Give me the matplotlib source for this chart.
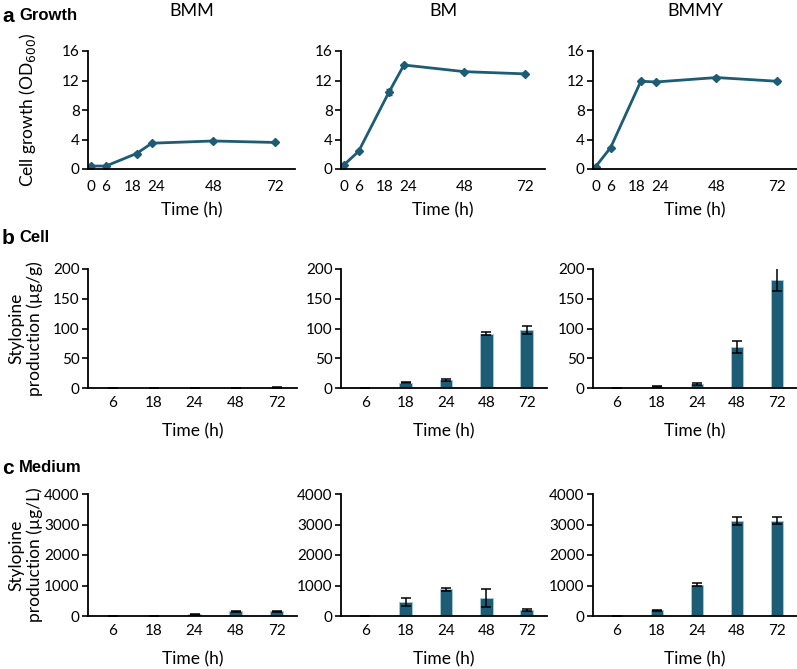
import numpy as np
import matplotlib
matplotlib.use('Agg')
import matplotlib.pyplot as plt
import matplotlib.transforms as mtransforms

plt.rcParams['font.family'] = ['Lato', 'DejaVu Sans']

# growth (OD600) over time
t_growth = [0, 6, 18, 24, 48, 72]
growth_bmm = [0.4, 0.4, 2.1, 3.5, 3.8, 3.6]
growth_bm = [0.5, 2.4, 10.4, 14.1, 13.2, 12.9]
growth_bmmy = [0.3, 2.9, 11.9, 11.8, 12.4, 11.9]
growth_bmm_err = [0.05, 0.05, 0.15, 0.1, 0.1, 0.1]
growth_bm_err = [0.05, 0.15, 0.4, 0.1, 0.15, 0.1]
growth_bmmy_err = [0.05, 0.15, 0.15, 0.1, 0.15, 0.2]

# stylopine production
t_prod = ['6', '18', '24', '48', '72']
cell_bmm = [0.0, 0.3, 0.0, 0.5, 1.5]
cell_bm = [0.5, 9, 13, 91, 98]
cell_bmmy = [0.0, 2, 7, 69, 182]
cell_bmm_err = [0, 0.2, 0, 0.3, 0.8]
cell_bm_err = [0.2, 1.0, 1.5, 2.5, 7]
cell_bmmy_err = [0, 1.0, 2, 10, 19]

med_bmm = [0, 5, 60, 150, 160]
med_bm = [0, 450, 870, 580, 195]
med_bmmy = [0, 195, 1020, 3110, 3120]
med_bmm_err = [0, 3, 15, 20, 15]
med_bm_err = [0, 130, 40, 300, 25]
med_bmmy_err = [0, 15, 50, 120, 110]

media = ['BMM', 'BM', 'BMMY']
col = '#1c5c74'

W, H = 797, 669
fig = plt.figure(figsize=(W / 100, H / 100), dpi=100)

def ax_px(left, top, right, bottom):
    return fig.add_axes([left / W, 1 - bottom / H, (right - left) / W, (bottom - top) / H])

def style(ax, xpad=6):
    for s in ['top', 'right']:
        ax.spines[s].set_visible(False)
    for s in ['left', 'bottom']:
        ax.spines[s].set_linewidth(1.3)
    ax.tick_params(axis='y', direction='out', length=4, width=1.2, labelsize=11, pad=2)
    ax.tick_params(axis='x', length=0, labelsize=11, pad=xpad)

lefts = [88, 341, 593]
rights = [295, 545, 797]

# row a: growth
gdata = [(growth_bmm, growth_bmm_err), (growth_bm, growth_bm_err), (growth_bmmy, growth_bmmy_err)]
for i, (y, e) in enumerate(gdata):
    ax = ax_px(lefts[i], 51, rights[i], 169)
    ax.errorbar(t_growth, y, yerr=e, color=col, lw=2, marker='D', ms=4.5,
                ecolor='#1a3f50', elinewidth=1, capsize=2.5)
    ax.set_ylim(0, 16)
    ax.set_yticks([0, 4, 8, 12, 16])
    ax.set_xlim(-1, 80)
    ax.set_xticks(t_growth)
    ax.set_xlabel('Time (h)', fontsize=12.5, labelpad=6)
    style(ax, xpad=8)
    # push the crowded 18 / 24 labels apart a little
    tl = ax.get_xticklabels()
    tl[2].set_transform(tl[2].get_transform() + mtransforms.ScaledTranslation(-3 / 72, 0, fig.dpi_scale_trans))
    tl[3].set_transform(tl[3].get_transform() + mtransforms.ScaledTranslation(3 / 72, 0, fig.dpi_scale_trans))
    ax.set_title(media[i], fontsize=13, y=1.0, pad=25)
    if i == 0:
        ax.set_ylabel('Cell growth (OD$_{600}$)', fontsize=12.5)
        ax.yaxis.set_label_coords((38 - 88) / 207, 0.5)

# row b and c: bars
def bars(top, bottom, datasets, ylim, yticks, ylabel):
    for i, (y, e) in enumerate(datasets):
        r = rights[i] + (2 if i < 2 else 0)
        ax = ax_px(lefts[i], top, r, bottom)
        x = np.arange(len(t_prod))
        ax.bar(x, y, width=0.32, color=col, edgecolor='#a8cbd8', linewidth=0.6)
        ax.errorbar(x, y, yerr=e, fmt='none', ecolor='black', elinewidth=1.1, capsize=3.5, capthick=1.1)
        ax.set_xlim(-0.6, 4.5)
        ax.set_xticks(x)
        ax.set_xticklabels(t_prod)
        ax.set_ylim(*ylim)
        ax.set_yticks(yticks)
        ax.set_xlabel('Time (h)', fontsize=12.5, labelpad=9)
        style(ax)
        if i == 0:
            ax.set_ylabel(ylabel, fontsize=12.5, linespacing=1.15)
            ax.yaxis.set_label_coords((43 - 88) / (r - lefts[i]), 0.5)

bars(269, 388, [(cell_bmm, cell_bmm_err), (cell_bm, cell_bm_err), (cell_bmmy, cell_bmmy_err)],
     (0, 200), [0, 50, 100, 150, 200], 'Stylopine\nproduction (µg/g)')
bars(494, 616, [(med_bmm, med_bmm_err), (med_bm, med_bm_err), (med_bmmy, med_bmmy_err)],
     (0, 4000), [0, 1000, 2000, 3000, 4000], 'Stylopine\nproduction (µg/L)')

# panel labels
for lab, name, yy in [('a', 'Growth', 16), ('b', 'Cell', 238), ('c', 'Medium', 468)]:
    fig.text(2 / W, 1 - yy / H, lab, fontsize=15, fontweight='bold', va='center', ha='left',
             family=['Liberation Sans', 'DejaVu Sans'])
    fig.text(19 / W, 1 - yy / H, name, fontsize=12, fontweight='bold', va='center', ha='left',
             family=['Liberation Sans', 'DejaVu Sans'])

fig.savefig('out.png', dpi=100)
